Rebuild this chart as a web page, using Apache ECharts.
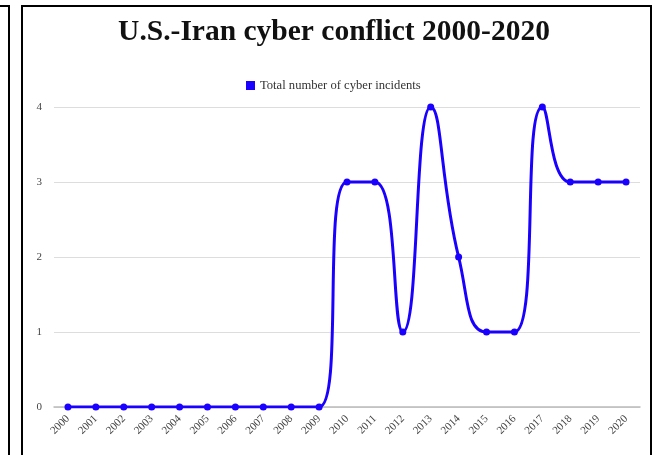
<!DOCTYPE html>
<html><head><meta charset="utf-8">
<script src="https://cdn.jsdelivr.net/npm/echarts@6/dist/echarts.min.js"></script>
<style>html,body{margin:0;padding:0;background:#fff}#c{width:655px;height:455px}</style>
</head><body><div id="c"></div>
<script>
const years = ['2000','2001','2002','2003','2004','2005','2006','2007','2008','2009','2010','2011','2012','2013','2014','2015','2016','2017','2018','2019','2020'];
const incidents = [0,0,0,0,0,0,0,0,0,0,3,3,1,4,2,1,1,4,3,3,3];
const yTicks = [0,1,2,3,4];
const chart = echarts.init(document.getElementById('c'));
chart.setOption({
  animation:false,
  backgroundColor:'#fff',
  title:{text:'U.S.-Iran cyber conflict 2000-2020',left:329,textAlign:'center',top:12,
    textStyle:{fontFamily:'Liberation Serif',fontWeight:'bold',fontSize:29.5,color:'#111'}},
  legend:{top:74,left:241,itemWidth:9,itemHeight:9,icon:'rect',itemGap:10,
    textStyle:{fontFamily:'Liberation Serif',fontSize:12.6,color:'#333'},
    data:['Total number of cyber incidents']},
  graphic:[
    {type:'rect',shape:{x:22,y:6,width:629,height:460},style:{fill:'none',stroke:'#000',lineWidth:2},z:100},
    {type:'polyline',shape:{points:[[0,6],[9,6],[9,460]]},style:{fill:'none',stroke:'#000',lineWidth:2},z:100}
  ],
  grid:{left:54,right:15,top:107,bottom:48},
  xAxis:{type:'category',data:years,boundaryGap:true,
    axisLine:{lineStyle:{color:'#bbb',width:1.5}},axisTick:{show:false},
    axisLabel:{rotate:45,fontFamily:'Liberation Serif',fontSize:11,color:'#444',margin:10,interval:0}},
  yAxis:{type:'value',min:0,max:4,interval:1,
    axisLine:{show:false},axisTick:{show:false},
    splitLine:{lineStyle:{color:'#ddd'}},
    axisLabel:{fontFamily:'Liberation Serif',fontSize:11,color:'#444',margin:12,
      formatter:v=>yTicks.includes(v)?String(v):''}},
  series:[{name:'Total number of cyber incidents',type:'line',data:incidents,smooth:0.5,
    symbol:'circle',symbolSize:7,showSymbol:true,
    itemStyle:{color:'#1a00ff'},lineStyle:{color:'#1a00ff',width:3}}]
});
</script></body></html>
